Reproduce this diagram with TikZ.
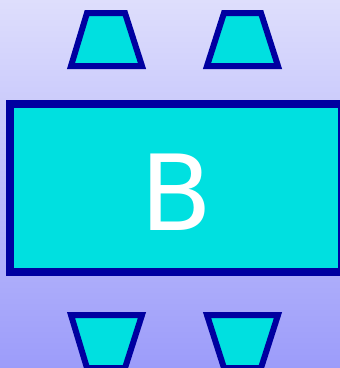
\documentclass[tikz,border=0pt]{standalone}
\usepackage{fontspec}
\setmainfont{DejaVu Sans}
\definecolor{bgtop}{RGB}{222,222,252}
\definecolor{bgbot}{RGB}{156,156,250}
\definecolor{fillc}{RGB}{0,224,224}
\definecolor{edgec}{RGB}{0,0,160}
\begin{document}
\begin{tikzpicture}[x=1pt,y=-1pt,
  part/.style={draw=edgec,fill=fillc,line join=miter}]
\useasboundingbox (0,0) rectangle (340,368);
\shade[top color=bgtop,bottom color=bgbot] (0,0) rectangle (340,368);
\begin{scope}
\clip (0,0) rectangle (340,368);
% main body
\draw[part,line width=8.5] (10,104) rectangle (342,272);
\node[text=white,font=\fontsize{105}{105}\selectfont,inner sep=0,anchor=base] (b) at (177,230) {B};
% top trapezoids
\draw[part,line width=6] (71,66) -- (87,13) -- (125,13) -- (142,66) -- cycle;
\draw[part,line width=6] (207,66) -- (224,13) -- (261,13) -- (278,66) -- cycle;
% bottom trapezoids
\draw[part,line width=6] (71,315) -- (87,368) -- (125,368) -- (142,315) -- cycle;
\draw[part,line width=6] (207,315) -- (224,368) -- (261,368) -- (278,315) -- cycle;
\end{scope}
\end{tikzpicture}
\end{document}
